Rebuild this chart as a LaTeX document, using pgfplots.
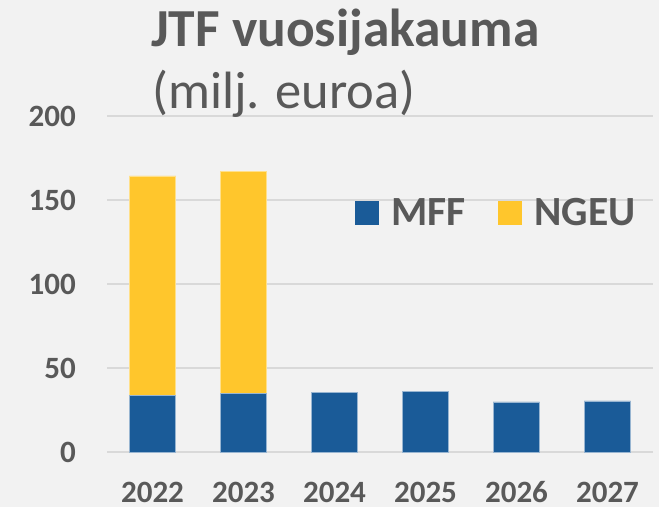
\documentclass[border=0pt]{standalone}
\usepackage{pgfplots}
\pgfplotsset{compat=1.18}
\usepackage{fontspec}
\setmainfont{Carlito}
\definecolor{bg}{HTML}{F2F2F2}
\definecolor{gridc}{HTML}{D9D9D9}
\definecolor{txt}{HTML}{595959}
\definecolor{mff}{HTML}{1A5B98}
\definecolor{ngeu}{HTML}{FFC62C}
\begin{document}
\begin{tikzpicture}[x=1pt,y=1pt]
\path[use as bounding box, fill=bg] (0,0) rectangle (659,507);
\begin{axis}[
  at={(107pt,55pt)}, anchor=south west,
  scale only axis, width=546pt, height=336pt,
  ybar stacked, bar width=46.5pt,
  xmin=-0.5, xmax=5.5, ymin=0, ymax=200,
  xtick={0,1,2,3,4,5}, xticklabels={2022,2023,2024,2025,2026,2027},
  ytick={0,50,100,150,200}, yticklabels={0,50,100,150,200},
  ymajorgrids, grid style={draw=gridc, line width=1.3pt},
  axis line style={draw=none}, major tick length=0pt,
  tick label style={font=\fontsize{31}{31}\selectfont\bfseries, text=txt},
  xticklabel style={anchor=base, inner sep=0pt, yshift=-50.5pt},
  yticklabel style={anchor=base east, inner sep=0pt, xshift=-31pt, yshift=-10.5pt},
  legend columns=2,
  legend image code/.code={\fill[#1, draw=none] (0pt,-12pt) rectangle (24pt,12pt);},
  legend style={at={(rel axis cs:0.454,0.670)}, anchor=south west, draw=none, fill=none,
    inner sep=0pt, outer sep=0pt, font=\fontsize{41.5}{41.5}\selectfont\bfseries, text=txt,
    nodes={inner sep=0pt},
    /tikz/every odd column/.append style={column sep=12.7pt},
    /tikz/every even column/.append style={column sep=31.7pt}},
]
\addplot[fill=mff, draw=mff!45!white, line width=0.8pt] coordinates {(0,33.9) (1,34.7) (2,35.5) (3,36.1) (4,29.8) (5,30.4)};
\addlegendentry{MFF}
\addplot[fill=ngeu, draw=ngeu!55!white, line width=0.8pt] coordinates {(0,130.4) (1,132.1) (2,0) (3,0) (4,0) (5,0)};
\addlegendentry{NGEU}
\end{axis}
\node[anchor=base west, inner sep=0pt, text=txt, font=\fontsize{53.5}{60}\selectfont\bfseries] at (151,460.3) {JTF vuosijakauma};
\node[anchor=base west, inner sep=0pt, text=txt, font=\fontsize{52.5}{60}\selectfont] at (152,398) {(milj. euroa)};
\end{tikzpicture}
\end{document}
